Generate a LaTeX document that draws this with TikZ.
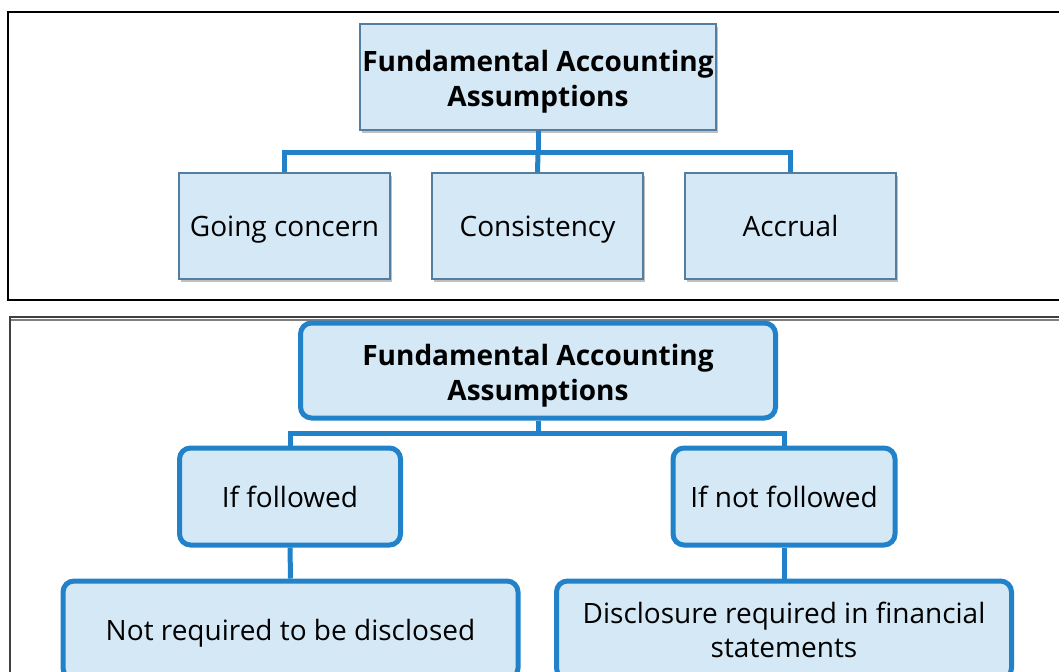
\documentclass[tikz,border=0pt]{standalone}
\usepackage{fontspec}
\setmainfont{Open Sans}
\usetikzlibrary{positioning, shadows}
\definecolor{chartfill}{RGB}{212,232,246}
\definecolor{chartblue}{RGB}{33,130,202}
\definecolor{chartedge}{RGB}{84,126,160}
\newlength\px
\setlength\px{0.75pt}
\newcommand\lowstrut{\rule{0pt}{23.5pt}}

\begin{document}
\begin{tikzpicture}[x=0.75pt, y=-0.75pt,
    flatbox/.style={draw=chartedge, fill=chartfill, line width=1.5\px,
        drop shadow={shadow xshift=1.5pt, shadow yshift=-2.5pt, opacity=0.5},
        minimum width=211\px, minimum height=106\px, inner sep=0pt,
        text height=3.3ex, text depth=0.45ex,
        font=\fontsize{21}{26}\selectfont},
    roundbox/.style={draw=chartblue, fill=chartfill, line width=5\px,
        rounded corners=11\px, inner sep=0pt, align=center,
        font=\fontsize{21}{26}\selectfont},
    titlefont/.style={font=\fontsize{21}{26}\selectfont\bfseries, align=center,
        text height=, text depth=},
    link/.style={chartblue, line width=5\px}]
    \clip (0,0) rectangle (1059,671);

    % Frames
    \draw[line width=2.5\px] (1070,300) -- (8,300) -- (8,12) -- (1070,12);
    \draw[gray, line width=2\px] (11,320) -- (1070,320);
    \draw[black!75, line width=2.5\px] (10,700) -- (10,317) -- (1070,317);

    % Top chart
    \node[flatbox, titlefont, minimum width=356\px, minimum height=106\px]
        (topfaa) at (538,77) {\lowstrut Fundamental Accounting\\Assumptions};
    \node[flatbox] (going) at (284.5,226) {Going concern};
    \node[flatbox] (consist) at (537.5,226) {Consistency};
    \node[flatbox] (accrual) at (790.5,226) {Accrual};
    \coordinate (topbus) at (538,152);

    \draw[link] (topfaa.south) -- (topbus);
    \draw[link] (going.north) |- (topbus) -| (accrual.north);
    \draw[link] (topbus) -- (consist.north);

    % Bottom chart
    \node[roundbox, titlefont, minimum width=475\px, minimum height=95\px]
        (botfaa) at (538,370.5) {\lowstrut Fundamental Accounting\\Assumptions};
    \node[roundbox, minimum width=221\px, minimum height=97\px]
        (followed) at (290,496.5) {If followed};
    \node[roundbox, minimum width=222\px, minimum height=97\px]
        (notfollowed) at (784,496.5) {If not followed};
    \node[roundbox, minimum width=455\px, minimum height=98\px,
        text height=3.3ex, text depth=0.45ex]
        (nodisclose) at (290.5,630) {Not required to be disclosed};
    \node[roundbox, minimum width=455\px, minimum height=98\px]
        (disclose) at (784,630) {Disclosure required in financial\\statements};
    \coordinate (botbus) at (538,433);

    \draw[link] (botfaa.south) -- (botbus);
    \draw[link] (followed.north) |- (botbus) -| (notfollowed.north);
    \draw[link] (followed.south) -- (nodisclose.north);
    \draw[link] (notfollowed.south) -- (disclose.north);
\end{tikzpicture}
\end{document}
